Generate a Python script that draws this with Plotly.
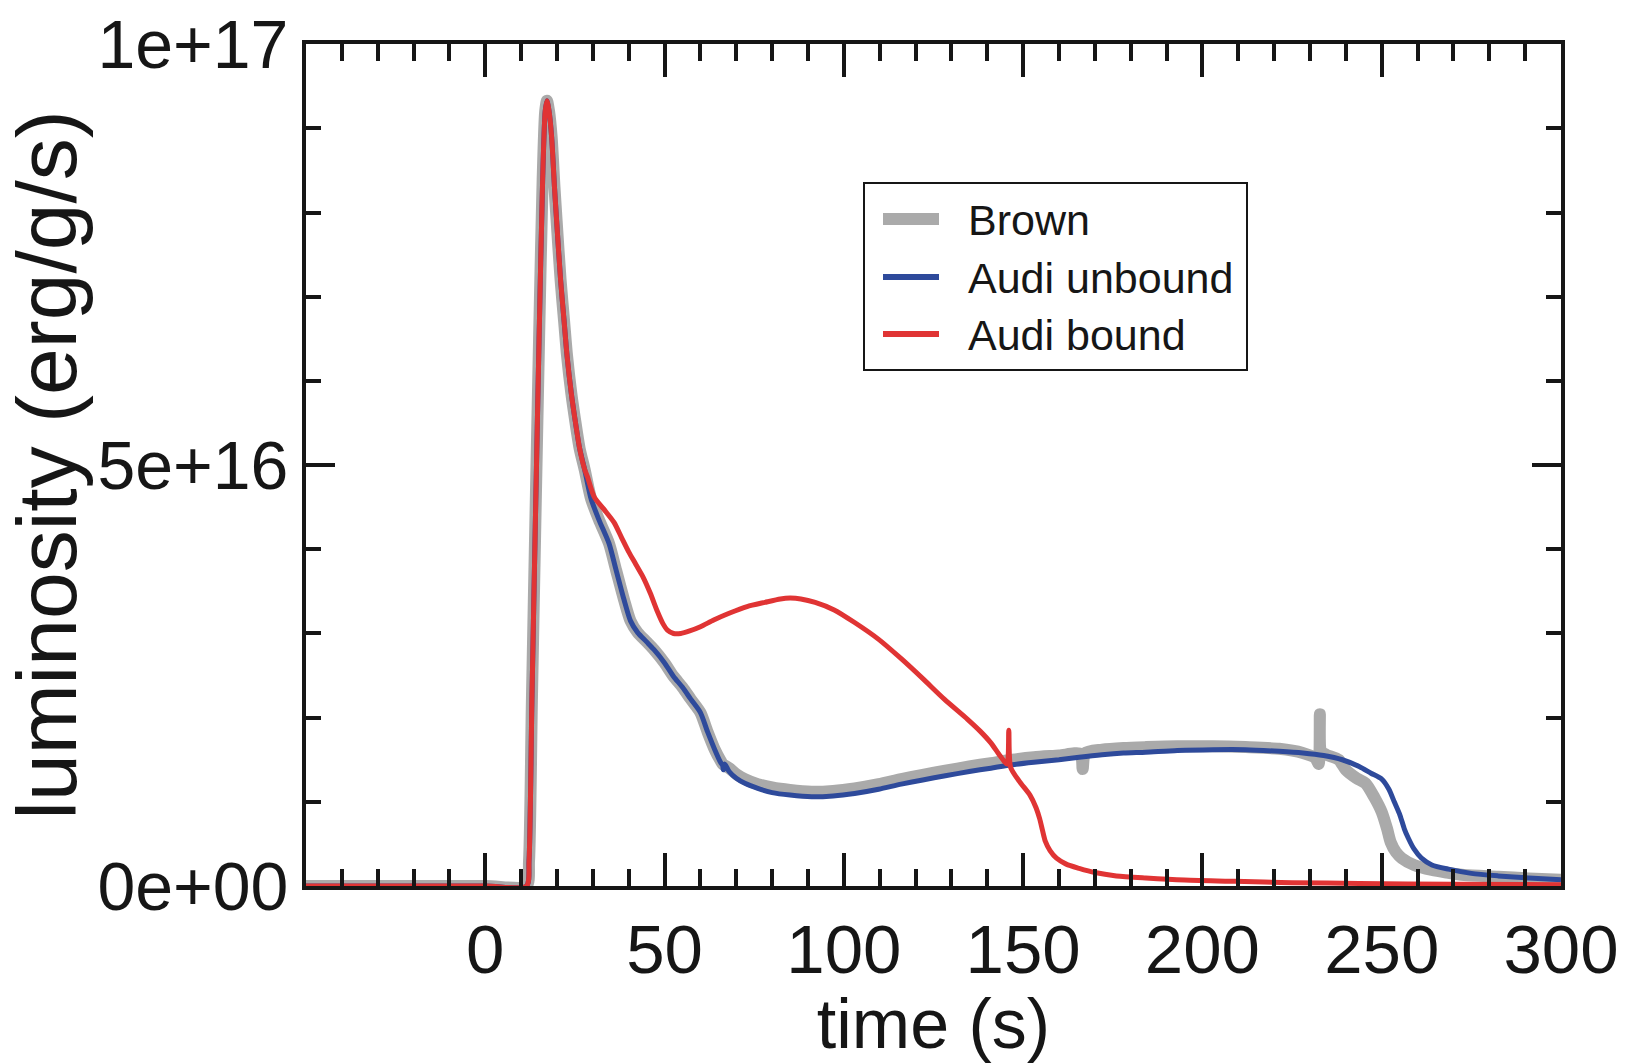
import plotly.graph_objects as go
import numpy as np

# ---------------- data (luminosity in units of 1e16 erg/g/s) ----------------
rise_t = [-50, 0, 11.5, 12.2, 13.0, 14.0, 15.0, 16.0, 16.7, 17.2, 17.8, 18.5, 19.3, 19.9,
          21.0, 22.0, 22.8, 24.0, 25.0, 26.3, 27.7]
rise_L = [0, 0, 0, 0.3, 2.2, 4.4, 6.5, 8.4, 9.2, 9.33, 9.2, 8.9, 8.3, 7.9,
          7.2, 6.7, 6.3, 5.85, 5.55, 5.2, 4.95]

unbound_t = [29.5, 31.7, 34.5, 36.5, 38.7, 40.5, 42.5, 45.0, 47.0, 50.0, 52.5, 55.0, 57.3,
             60.0, 62.0, 64.0, 65.6, 66.2, 66.4, 66.8, 68.0, 70.0, 72.4, 76.0, 80.0, 85.0,
             91.0, 97.0, 103.0, 109.7, 116.0, 122.0, 128.3, 135.0, 141.0, 146.9, 153.0,
             160.0, 165.6, 172.0, 178.0, 184.2, 193.0, 202.8, 212.0, 221.4, 228.0, 233.8,
             239.0, 243.7, 247.0, 250.0, 252.0, 253.5, 255.1, 256.3, 257.4, 259.0, 261.1,
             264.0, 268.6, 275.0, 282.5, 291.0, 300.0]
unbound_L = [4.60, 4.35, 4.07, 3.75, 3.40, 3.15, 3.01, 2.90, 2.81, 2.65, 2.49, 2.36, 2.22,
             2.06, 1.83, 1.62, 1.47, 1.43, 1.38, 1.45, 1.36, 1.28, 1.22, 1.16, 1.11, 1.08,
             1.06, 1.07, 1.10, 1.15, 1.21, 1.26, 1.31, 1.36, 1.40, 1.44, 1.47,
             1.50, 1.53, 1.56, 1.58, 1.59, 1.61, 1.62, 1.62, 1.60, 1.58, 1.55,
             1.50, 1.42, 1.34, 1.27, 1.15, 1.00, 0.84, 0.68, 0.57, 0.44, 0.33,
             0.25, 0.20, 0.15, 0.12, 0.095, 0.075]

brown_t = [29.5, 31.7, 34.5, 36.5, 38.7, 40.5, 42.5, 45.0, 47.0, 50.0, 52.5, 55.0, 57.3,
           60.0, 62.0, 64.0, 65.6, 66.2, 68.0, 70.0, 72.4, 76.0, 80.0, 85.0, 91.0, 97.0,
           103.0, 109.7, 116.0, 122.0, 128.3, 135.0, 141.0, 146.9, 153.0, 160.0, 166.0,
           166.6, 167.3, 172.0, 178.0, 184.2, 193.0, 202.8, 212.0, 221.4, 228.0, 231.5,
           232.4, 232.75, 233.1, 234.5, 238.0, 240.0, 243.0, 245.5, 248.0, 250.0, 251.5,
           252.5, 254.0, 255.6, 259.0, 264.0, 268.0, 273.0, 282.5, 291.0, 300.0]
brown_L = [4.60, 4.35, 4.07, 3.75, 3.40, 3.15, 3.01, 2.90, 2.81, 2.65, 2.49, 2.36, 2.22,
           2.06, 1.83, 1.62, 1.49, 1.45, 1.40, 1.33, 1.27, 1.21, 1.17, 1.14, 1.12, 1.13,
           1.16, 1.21, 1.27, 1.32, 1.37, 1.42, 1.46, 1.50, 1.53, 1.55, 1.57,
           1.39, 1.58, 1.62, 1.64, 1.65, 1.66, 1.66, 1.65, 1.63, 1.58, 1.52,
           1.45, 2.04, 1.60, 1.56, 1.50, 1.38, 1.28, 1.22, 1.05, 0.88, 0.68,
           0.52, 0.40, 0.33, 0.25, 0.19, 0.16, 0.13, 0.11, 0.09, 0.075]

bound_t = [28.5, 30.4, 33.0, 35.9, 38.0, 40.0, 42.0, 44.0, 46.0, 48.0, 49.5, 50.8, 52.5,
           54.5, 57.0, 60.0, 63.7, 68.0, 73.0, 78.0, 82.3, 85.0, 88.0, 92.0, 97.3, 103.0,
           109.7, 116.0, 122.1, 128.0, 134.5, 138.0, 141.0, 143.5, 145.5, 146.0, 146.5,
           149.0, 151.9, 153.6, 154.6, 155.4, 156.2, 157.5, 159.3, 162.0, 165.6, 170.0,
           176.0, 184.2, 195.0, 209.0, 225.0, 243.7, 270.0, 300.0]
bound_L = [4.86, 4.62, 4.48, 4.32, 4.14, 3.97, 3.82, 3.67, 3.48, 3.26, 3.12, 3.04, 3.00,
           3.00, 3.03, 3.08, 3.16, 3.24, 3.32, 3.37, 3.41, 3.42, 3.41, 3.37, 3.28, 3.13,
           2.93, 2.70, 2.46, 2.22, 1.98, 1.84, 1.70, 1.55, 1.45, 1.85, 1.41,
           1.24, 1.08, 0.93, 0.80, 0.66, 0.53, 0.42, 0.33, 0.26, 0.21, 0.16,
           0.12, 0.095, 0.07, 0.055, 0.04, 0.03, 0.02, 0.015]

UNIT = 1e16
x_tickvals = [-50, 0, 50, 100, 150, 200, 250, 300]
x_ticktext = ["", "0", "50", "100", "150", "200", "250", "300"]
y_tickvals = [0, 5e16, 1e17]
y_ticktext = ["0e+00", "5e+16", "1e+17"]

series_names = ["Brown", "Audi unbound", "Audi bound"]
series_t = [brown_t, unbound_t, bound_t]
series_L = [brown_L, unbound_L, bound_L]
series_colors = ["rgb(170,170,170)", "rgb(46,74,155)", "rgb(224,52,52)"]
series_widths = [12, 5, 5]

FONT = "Liberation Sans, Arial, Helvetica, sans-serif"
INK = "#161616"

W, H = 1628, 1063
ML, MR, MT, MB = 306, 67, 44, 177
PW, PH = W - ML - MR, H - MT - MB


def px(xp):
    return (xp - ML) / PW


def py(yp):
    return (H - MB - yp) / PH


fig = go.Figure()
for name, t, L, col, w in zip(series_names, series_t, series_L, series_colors, series_widths):
    tt = list(rise_t) + list(t)
    LL = np.array(list(rise_L) + list(L)) * UNIT
    fig.add_trace(go.Scatter(x=tt, y=LL, mode="lines", name=name, showlegend=False,
                             line=dict(color=col, width=w, shape="spline", smoothing=0.7)))

# ----- legend box drawn in paper space -----
shapes = [dict(type="rect", xref="paper", yref="paper",
               x0=px(864), x1=px(1247), y0=py(370), y1=py(183),
               line=dict(color=INK, width=2), fillcolor="white", layer="above")]
annotations = []
legend_rows = [219, 277, 334]
for name, col, w, yr in zip(series_names, series_colors, series_widths, legend_rows):
    shapes.append(dict(type="line", xref="paper", yref="paper",
                       x0=px(883), x1=px(939), y0=py(yr), y1=py(yr),
                       line=dict(color=col, width=w if w > 6 else 6), layer="above"))
    annotations.append(dict(text=name, xref="paper", yref="paper",
                            x=px(966), y=py(yr + 1), xanchor="left", yanchor="middle",
                            showarrow=False, font=dict(size=43, family=FONT, color=INK)))

fig.update_layout(
    width=W, height=H,
    margin=dict(l=ML, r=MR, t=MT, b=MB, autoexpand=False),
    paper_bgcolor="white", plot_bgcolor="white",
    font=dict(family=FONT, color=INK),
    showlegend=False,
    shapes=shapes, annotations=annotations,
)
fig.update_xaxes(
    range=[-50, 300], showgrid=False, zeroline=False, automargin=False,
    showline=True, linecolor=INK, linewidth=4, mirror="ticks",
    ticks="inside", ticklen=33, tickwidth=4, tickcolor=INK,
    tickmode="array", tickvals=x_tickvals, ticktext=x_ticktext,
    tickfont=dict(size=69, family=FONT, color=INK),
    minor=dict(dtick=10, tick0=0, ticks="inside", ticklen=17, tickwidth=4, tickcolor=INK),
    title=dict(text="time (s)", font=dict(size=70, family=FONT, color=INK), standoff=6),
)
fig.update_yaxes(
    range=[0, 1.0003e17], showgrid=False, zeroline=False, automargin=False,
    showline=True, linecolor=INK, linewidth=4, mirror="ticks",
    ticks="inside", ticklen=29, tickwidth=4, tickcolor=INK,
    tickmode="array", tickvals=y_tickvals, ticktext=y_ticktext,
    tickfont=dict(size=68, family=FONT, color=INK),
    minor=dict(dtick=1e16, tick0=0, ticks="inside", ticklen=15, tickwidth=4, tickcolor=INK),
    title=dict(text="luminosity (erg/g/s)", font=dict(size=84, family=FONT, color=INK), standoff=10),
)

fig.write_html("out.html")
